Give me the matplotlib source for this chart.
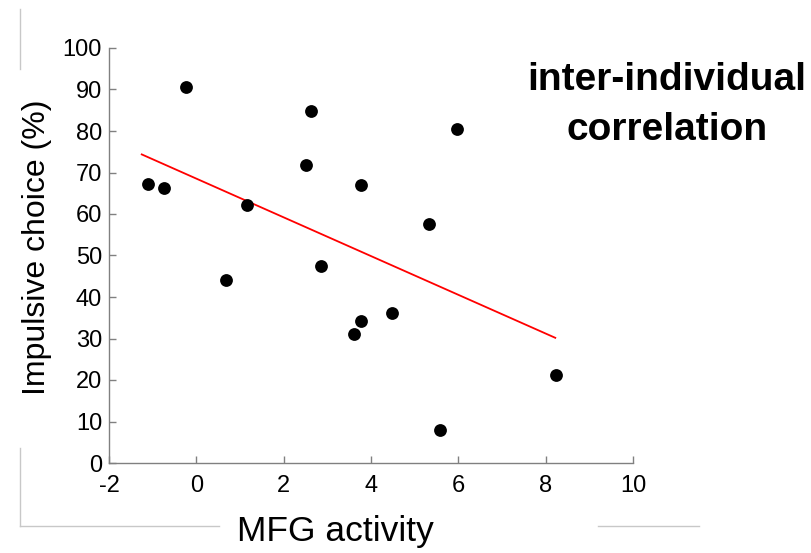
import numpy as np
import matplotlib.pyplot as plt
from matplotlib.lines import Line2D

# values
mfg = [-1.11, -0.74, -0.24, 0.68, 1.17, 2.52, 2.63, 2.85, 3.62, 3.77, 3.77, 4.49, 5.33, 5.58, 5.97, 8.23]
impulsive = [67.2, 66.3, 90.6, 44.1, 62.1, 71.7, 84.7, 47.5, 31.1, 34.1, 67.0, 36.2, 57.7, 8.0, 80.4, 21.3]
fit_range = [-1.25, 8.22]
xticks = [-2, 0, 2, 4, 6, 8, 10]
yticks = list(range(0, 101, 10))

plt.rcParams['font.family'] = ['Liberation Sans', 'DejaVu Sans']
plt.rcParams['axes.unicode_minus'] = False

W, H = 812, 553
fig = plt.figure(figsize=(W / 100, H / 100), dpi=100)


def fig_line(xs, ys):
    # faint outer frame pieces, in pixel coords from the top-left
    fig.add_artist(Line2D([x / W for x in xs], [1 - y / H for y in ys],
                          color='#c8c8c8', lw=1.0, transform=fig.transFigure))


fig_line([20, 20], [9, 69])
fig_line([20, 20], [448, 526])
fig_line([20, 219], [526, 526])
fig_line([598, 699], [526, 526])

ax = fig.add_axes([109 / W, (H - 463) / H, 524 / W, 415 / H])
ax.patch.set_alpha(0)
ax.scatter(mfg, impulsive, s=85, color='black', zorder=3, linewidths=0)

slope, icpt = np.polyfit(mfg, impulsive, 1)
xs = np.array(fit_range)
ax.plot(xs, slope * xs + icpt, color='red', lw=1.3, zorder=2)

ax.set_xlim(-2, 10)
ax.set_ylim(0, 100)
ax.set_xticks(xticks)
ax.set_yticks(yticks)
ax.tick_params(direction='in', length=5, width=1, color='#808080', labelsize=17)
ax.tick_params(axis='x', pad=9)
ax.tick_params(axis='y', pad=5)
for s in ['top', 'right']:
    ax.spines[s].set_visible(False)
for s in ['left', 'bottom']:
    ax.spines[s].set_color('#808080')
    ax.spines[s].set_linewidth(1.0)

ax.set_xlabel('MFG activity', fontsize=25.5, va='center')
ax.xaxis.set_label_coords(335 / W, 1 - 531 / H, transform=fig.transFigure)
ax.set_ylabel('Impulsive choice (%)', fontsize=23, va='center')
ax.yaxis.set_label_coords(37 / W, 1 - 247 / H, transform=fig.transFigure)

fig.text(667 / W, 1 - 105 / H, 'inter-individual\ncorrelation', ha='center', va='center',
         fontsize=28, fontweight='bold', linespacing=1.5)

fig.savefig('out.png', dpi=100)
